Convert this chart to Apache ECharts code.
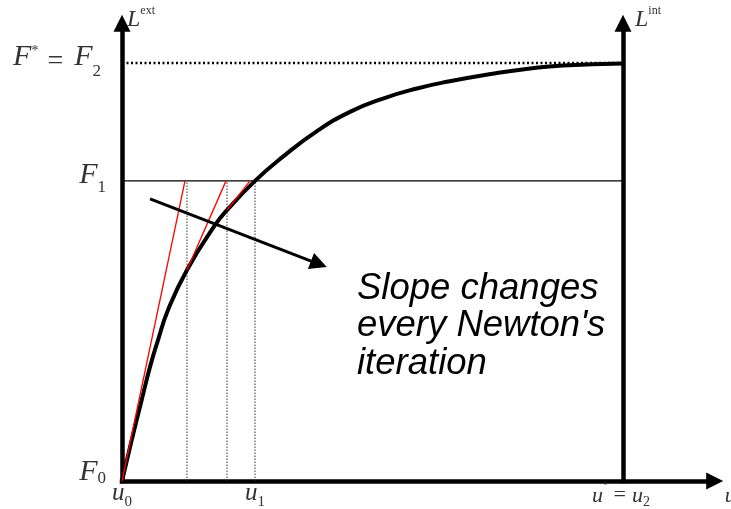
<!DOCTYPE html>
<html>
<head>
<meta charset="utf-8">
<script src="https://cdn.jsdelivr.net/npm/echarts@6/dist/echarts.min.js"></script>
<style>
  html, body { margin: 0; padding: 0; background: #fff; }
  #chart { width: 731px; height: 509px; }
</style>
</head>
<body>
<div id="chart"></div>
<script>
// Load-displacement curve (u: displacement, F: load), sampled along its length
const curveU = [0, 0.194, 0.393, 0.559, 0.719, 0.918, 1.297, 1.856, 2.096, 2.655, 3.214, 3.892, 4.551, 5.210, 5.888, 6.487, 7.485, 8.144, 8.802, 10.0];
const curveF = [0, 0.98, 1.94, 2.73, 3.37, 4.09, 5.05, 6.12, 6.48, 7.18, 7.76, 8.37, 8.83, 9.15, 9.39, 9.55, 9.76, 9.87, 9.94, 9.99];

// Newton iterations in the first load step: tangent start points on the curve
const iterU = [0, 1.297, 2.096];
const iterF = [0, 5.05, 6.48];
// displacement where each tangent reaches the target load F1
const tangentEndU = [1.257, 2.076, 2.555];
// displacements where the curve is re-evaluated (dotted drop lines)
const dropU = [1.297, 2.096, 2.655];

// load levels F0, F1, F2 and displacement ticks u0, u1, u2
const loadLevels = [0, 7.18, 10];
const loadTickLabels = ['{fA|F}{sA|0}', '{fB|F}{sB|1}', '{fC|F}{st|*}{eq|=}{fC|F}{sC|2}'];
const dispTicks = [0, 2.655, 10];
const dispTickLabels = ['{u|u}{us|0}', '{u|u}{us|1}', '{v|u}{vst|*}{veq|=}{v|u}{vs|2}'];

// annotation arrow (start, arrowhead centre)
const arrowFrom = [0.56, 6.75];
const arrowTo = [3.93, 5.19];

// scale of the drawing
const pxU = 50.1, pxF = 41.8;
const xMax = 11.83, yMax = 10.95;

const serif = '"Liberation Serif", "Times New Roman", serif';
const gray = '#333';
const F1 = loadLevels[1], F2 = loadLevels[2], uEnd = dispTicks[2];

function it(size, lh, pad) {
  return { fontFamily: serif, fontStyle: 'italic', fontSize: size, lineHeight: lh,
    color: gray, verticalAlign: 'top', padding: pad };
}
function up(size, lh, pad) {
  return { fontFamily: serif, fontSize: size, lineHeight: lh, color: gray, verticalAlign: 'top', padding: pad };
}

const arrowStyle = { show: true, symbol: ['none', 'triangle'], symbolSize: [17, 17],
  lineStyle: { color: '#000', width: 4.5, cap: 'square' } };

const drops = dropU.map(u => ({
  type: 'line', data: [[u, 0], [u, F1]], symbol: 'none', silent: true, z: 2,
  lineStyle: { color: '#333', width: 1, type: [1.5, 1.5] }
}));
const tangents = iterU.map((u, i) => ({
  type: 'line', data: [[u, iterF[i]], [tangentEndU[i], F1]], symbol: 'none', silent: true, z: 5,
  lineStyle: { color: '#ff0000', width: 1.3 }
}));

const chart = echarts.init(document.getElementById('chart'), null, { renderer: 'canvas' });
chart.setOption({
  animation: false,
  color: ['#000'],
  grid: { left: 122, bottom: 28, width: xMax * pxU, height: yMax * pxF,
    containLabel: false, outerBoundsMode: 'none' },
  xAxis: {
    type: 'value', min: 0, max: xMax,
    splitLine: { show: false }, axisTick: { show: false },
    axisLine: arrowStyle,
    name: '{u|u}', nameLocation: 'end', nameGap: 10,
    nameTextStyle: { align: 'left', verticalAlign: 'top', rich: { u: it(22, 22, [4.6, 0, 3.4, 0]) } },
    axisLabel: {
      customValues: dispTicks, margin: 0,
      formatter: v => dispTickLabels[dispTicks.indexOf(v)],
      rich: {
        u: it(25, 25, [0, 0, 5, 0]),
        us: up(15, 15, [13.5, 0, 1.5, 0]),
        v: it(22, 22, [4.6, 0, 3.4, 0]),
        vst: up(9, 9, [0, 0, 21, 0]),
        veq: up(22, 22, [3.5, 6, 4.5, 6]),
        vs: up(14, 14, [14.5, 4, 1.5, 0])
      }
    }
  },
  yAxis: [{
    type: 'value', min: 0, max: yMax,
    splitLine: { show: false }, axisTick: { show: false },
    axisLine: arrowStyle,
    name: '{L|L}{s|ext}', nameLocation: 'end', nameGap: 6.3,
    nameTextStyle: { align: 'left', verticalAlign: 'middle',
      rich: { L: it(24, 24, [3, 0, 3, 5]), s: up(12, 12, [0, 0, 18, 0]) } },
    axisLabel: {
      customValues: loadLevels, margin: 16, padding: [0, 0, 30, 0],
      formatter: v => loadTickLabels[loadLevels.indexOf(v)],
      rich: {
        fA: it(30, 30, [6, 0, 24, 0]),
        sA: up(17, 17, [19.5, 0, 23.5, 0]),
        fB: it(30, 30, [9, 0, 21, 0]),
        sB: up(17, 17, [28, 0, 15, 0]),
        fC: it(30, 30, [9.5, 0, 20.5, 0]),
        st: up(14, 14, [11, 0, 35, 0]),
        eq: up(28, 28, [14.5, 11, 17.5, 9]),
        sC: up(17, 17, [30, 5, 13, 0])
      }
    }
  }, {
    type: 'value', min: 0, max: yMax, position: 'right',
    offset: -(xMax - uEnd) * pxU,
    splitLine: { show: false }, axisTick: { show: false }, axisLabel: { show: false },
    axisLine: arrowStyle,
    name: '{L|L}{s|int}', nameLocation: 'end', nameGap: 6.3,
    nameTextStyle: { align: 'left', verticalAlign: 'middle',
      rich: { L: it(24, 24, [3, 0, 3, 12]), s: up(12, 12, [0, 0, 18, 0]) } }
  }],
  series: [
    { type: 'line', data: [[0, F1], [uEnd, F1]], symbol: 'none', silent: true, z: 2,
      lineStyle: { color: '#000', width: 1.2 } },
    { type: 'line', data: [[0, F2], [uEnd, F2]], symbol: 'none', silent: true, z: 2,
      lineStyle: { color: '#000', width: 2.5, type: [2, 2.5] } },
    ...drops,
    { type: 'line', data: curveU.map((u, i) => [u, curveF[i]]), symbol: 'none', silent: true, z: 4,
      smooth: 0.5,
      lineStyle: { color: '#000', width: 4 } },
    ...tangents,
    { type: 'lines', coordinateSystem: 'cartesian2d', silent: true, z: 6,
      symbol: ['none', 'triangle'], symbolSize: [13, 17],
      lineStyle: { color: '#000', width: 3, opacity: 1 },
      data: [{ coords: [arrowFrom, arrowTo] }] }
  ],
  graphic: [{
    type: 'text', left: 357, top: 270, silent: true,
    style: {
      text: 'Slope changes\nevery Newton\'s\niteration',
      font: 'italic 36.5px "Liberation Sans", Arial, sans-serif',
      lineHeight: 37.5, fill: '#000'
    }
  }]
});
</script>
</body>
</html>
